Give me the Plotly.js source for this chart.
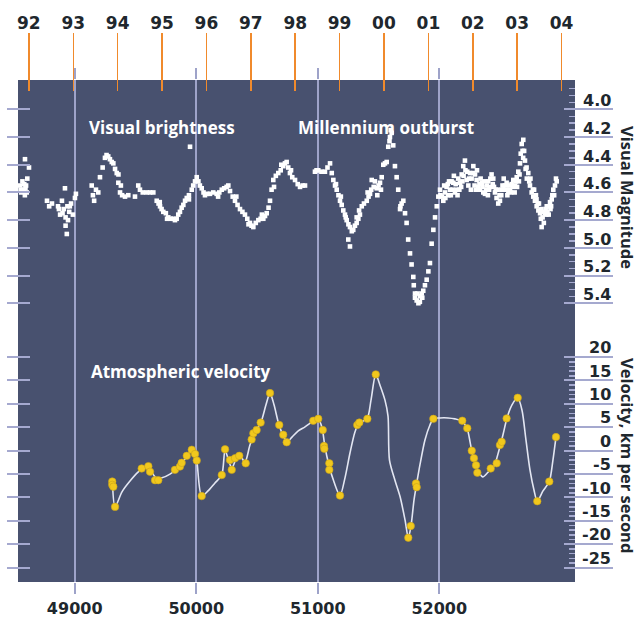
<!DOCTYPE html>
<html><head><meta charset="utf-8">
<script src="https://cdn.plot.ly/plotly-3.0.1.min.js"></script>
<style>html,body{margin:0;padding:0;background:#fff}#chart{width:640px;height:618px}</style>
</head><body><div id="chart"></div>
<script>
// ---------- data ----------
const yearJD = [48622.5,48988.5,49353.5,49718.5,50083.5,50449.5,50814.5,51179.5,51544.5,51910.5,52275.5,52640.5,53005.5];
const yearLabels = ['92','93','94','95','96','97','98','99','00','01','02','03','04'];
const jdTicks = [49000,50000,51000,52000];
const jdLabels = ['49000','50000','51000','52000'];
const magTicks = [4.0,4.2,4.4,4.6,4.8,5.0,5.2,5.4];
const magLabels = ['4.0','4.2','4.4','4.6','4.8','5.0','5.2','5.4'];
const velTicks = [20,15,10,5,0,-5,-10,-15,-20,-25];
const velLabels = ['20','15','10','5','0','-5','-10','-15','-20','-25'];

// visual brightness (JD-2400000, magnitude)
const visJD = [
48550,48560,48570,48580,48590,48600,48610,48591,48624,48605,48555,48585,48595,
48772,48790,48813,48863,48880,48895,48910,48920,48925,48925,48935,48940,48955,48970,48985,49002,49010,48870,48900,48945,48960,
49140,49150,49160,49175,49194,49208,49230,49249,49262,49276,49290,49305,49318,49332,49346,49360,49359,49373,49380,49390,49414,49441,
49496,49523,49537,49560,49592,49620,49647,49675,49690,49700,49702,49715,49729,49750,49760,49770,49790,49811,49825,49839,49852,49866,49880,49894,49908,49922,49940,49940,49949,49963,49975,49990,
50004,50018,50030,50045,50060,50072,50090,50113,50140,50168,50180,50190,50210,50230,50250,50264,50278,50300,50319,50330,50340,50360,50380,50401,50420,50430,50442,50455,50470,50490,50511,50530,50540,50552,50566,50580,50595,50607,50620,50634,50640,50655,50675,50695,50700,50716,50730,50744,50757,50771,50780,50790,50813,50835,50854,50875,50895,
50977,50990,51004,51030,51059,51080,51101,51115,51128,51142,51150,51156,51170,51183,51190,51197,51210,51224,51230,51238,51252,51265,51251,51265,51280,51292,51306,51320,51320,51334,51340,51347,51362,51380,51403,51410,51418,51430,51440,51444,51460,51470,51485,51490,51500,51512,51520,51526,51539,51553,51567,51580,51590,51594,51600,51608,51621,51635,51649,51662,51677,51680,51690,51704,51718,51731,51744,51759,51772,51786,51790,51800,51800,51814,51820,51828,51840,51841,51855,51860,51868,51882,51896,51910,51923,51937,51951,51965,51979,51992,
52006,52020,52033,52047,52060,52074,52088,52101,52115,52129,52143,52156,52170,52184,52197,52211,52225,52239,52253,52266,52280,52294,52307,52321,52335,52349,52362,52376,52390,52403,52417,52430,52444,52458,52471,52485,52499,52513,52527,52540,52554,52568,52582,52595,52609,52623,52637,52650,52664,52678,52691,52698,52705,52718,52732,52746,52760,52773,52787,52801,52815,52829,52842,52850,52870,52884,52897,52911,52925,52938,52952,52966,
52040,52070,52095,52120,52150,52180,52200,52230,52260,52290,52310,52340,52370,52400,52420,52450,52480,52510,52530,52560,52590,52620,52640,52660,52690,52720,52750,52780,52800,52820,52840,52860,52880,52900,52920,52930,
52010,52050,52080,52110,52135,52165,52190,52215,52245,52275,52300,52330,52355,52385,52410,52440,52465,52495,52520,52550,52575,52605,52630,52655,52670,52685,52710,52740,52770,52795,52810,52835,52855,52875,52890,52915,52945,52960
];
const visMag = [
4.55,4.60,4.52,4.58,4.62,4.55,4.50,4.36,4.42,4.60,4.58,4.54,4.57,
4.66,4.70,4.68,4.70,4.76,4.66,4.72,4.57,4.78,4.84,4.90,4.70,4.74,4.68,4.76,4.64,4.61,4.72,4.75,4.80,4.70,
4.55,4.62,4.66,4.58,4.60,4.49,4.42,4.35,4.33,4.34,4.36,4.38,4.39,4.43,4.46,4.47,4.53,4.60,4.55,4.62,4.63,4.62,
4.63,4.55,4.58,4.60,4.60,4.60,4.60,4.66,4.68,4.67,4.70,4.72,4.74,4.75,4.79,4.78,4.79,4.79,4.80,4.79,4.76,4.74,4.71,4.69,4.66,4.64,4.62,4.65,4.27,4.58,4.55,4.52,
4.49,4.52,4.55,4.57,4.60,4.62,4.61,4.61,4.60,4.61,4.63,4.60,4.58,4.57,4.56,4.55,4.59,4.63,4.66,4.63,4.69,4.72,4.74,4.76,4.79,4.83,4.82,4.84,4.85,4.82,4.80,4.79,4.76,4.79,4.77,4.75,4.71,4.66,4.58,4.51,4.56,4.48,4.46,4.44,4.40,4.41,4.39,4.38,4.42,4.46,4.44,4.49,4.51,4.54,4.56,4.55,4.55,
4.45,4.44,4.44,4.45,4.45,4.42,4.39,4.46,4.51,4.55,4.54,4.58,4.62,4.66,4.63,4.69,4.73,4.76,4.78,4.80,4.83,4.85,4.94,4.99,4.88,4.87,4.84,4.82,4.78,4.79,4.73,4.76,4.70,4.68,4.66,4.60,4.63,4.61,4.58,4.51,4.56,4.52,4.57,4.62,4.55,4.53,4.58,4.49,4.40,4.39,4.38,4.27,4.23,4.20,4.15,4.17,4.26,4.41,4.49,4.58,4.72,4.70,4.68,4.66,4.75,4.82,4.94,5.04,5.12,5.21,5.27,5.33,5.36,5.38,5.33,5.40,5.39,5.35,5.33,5.36,5.31,5.27,5.23,5.17,5.11,4.97,4.87,4.78,4.70,4.63,
4.58,4.63,4.66,4.60,4.56,4.62,4.58,4.52,4.53,4.60,4.58,4.50,4.53,4.47,4.41,4.37,4.51,4.55,4.46,4.50,4.41,4.47,4.51,4.56,4.58,4.53,4.60,4.61,4.55,4.52,4.56,4.47,4.50,4.60,4.64,4.68,4.66,4.58,4.58,4.55,4.53,4.59,4.58,4.54,4.51,4.55,4.49,4.45,4.39,4.25,4.22,4.30,4.37,4.42,4.46,4.55,4.60,4.63,4.66,4.70,4.73,4.75,4.85,4.78,4.75,4.70,4.70,4.67,4.65,4.58,4.55,4.52,
4.55,4.54,4.62,4.48,4.62,4.56,4.48,4.45,4.58,4.55,4.44,4.50,4.52,4.62,4.50,4.56,4.58,4.62,4.50,4.62,4.60,4.60,4.56,4.47,4.35,4.50,4.50,4.58,4.65,4.68,4.72,4.82,4.76,4.76,4.70,4.62,
4.62,4.64,4.52,4.58,4.54,4.58,4.52,4.44,4.50,4.46,4.58,4.54,4.56,4.58,4.58,4.54,4.58,4.62,4.55,4.58,4.55,4.56,4.52,4.52,4.32,4.30,4.43,4.52,4.58,4.62,4.68,4.79,4.74,4.72,4.74,4.72,4.62,4.50
];

// atmospheric velocity measurements (km/s)
const velJD = [49309,49309,49318,49332,49551,49606,49620,49661,49688,49825,49866,49880,49922,49963,49990,50004,50045,50210,50237,50278,50292,50319,50354,50407,50456,50470,50497,50530,50607,50683,50716,50744,50963,51004,51041,51051,51054,51095,51095,51183,51325,51342,51408,51477,51745,51765,51808,51814,51951,52189,52230,52267,52285,52302,52313,52423,52472,52499,52513,52554,52645,52806,52905,52960];
const velKms = [-6.6,-7.3,-7.7,-12.0,-3.8,-3.3,-4.5,-6.3,-6.3,-4.1,-3.4,-2.6,-1.1,0.2,-0.7,-2.1,-9.7,-5.2,0.3,-2.0,-4.1,-1.6,-1.1,-2.7,2.4,3.7,4.4,6.0,12.3,5.5,3.4,1.8,6.4,6.8,4.4,1.0,0.4,-2.7,-4.1,-9.6,5.5,6.0,6.8,16.3,-18.6,-16.1,-7.0,-7.8,6.8,6.4,4.8,0.0,-1.6,-3.1,-4.7,-3.8,-2.7,1.2,1.9,6.9,11.3,-10.8,-6.6,2.9];

// smooth curve drawn through the velocities
const fitJD = [49311,49332,49389,49455,49521,49578,49620,49669,49718,49784,49850,49908,49957,49990,50006,50045,50097,50154,50210,50237,50270,50294,50327,50360,50401,50442,50484,50533,50574,50607,50640,50681,50722,50747,50788,50837,50895,50961,51002,51035,51059,51092,51134,51183,51224,51265,51306,51339,51405,51438,51477,51512,51553,51578,51590,51635,51677,51718,51745,51767,51792,51812,51841,51882,51923,51951,52006,52072,52129,52187,52228,52253,52269,52302,52357,52401,52450,52491,52524,52557,52598,52645,52680,52713,52746,52779,52806,52853,52905,52935,52960];
const fitKms = [-6.9,-12.0,-8.8,-6.5,-4.6,-3.5,-4.1,-5.8,-5.8,-5.0,-3.7,-1.8,-0.1,-0.3,-2.4,-9.7,-8.6,-6.9,-5.2,0.1,-2.4,-3.7,-1.8,-1.1,-2.4,1.2,4.0,6.1,9.8,12.3,9.8,5.5,2.9,1.9,2.9,4.2,5.1,6.3,6.8,4.9,0.8,-3.1,-6.7,-9.6,-5.8,-0.5,4.0,5.9,6.8,10.8,16.3,14.0,10.8,7.4,-2.0,-6.3,-9.8,-14.8,-18.6,-16.1,-10.5,-7.3,-3.0,2.3,5.5,6.8,7.0,7.0,6.8,6.3,4.8,1.9,-0.3,-3.3,-5.6,-4.6,-3.3,0.1,3.4,7.0,9.8,11.3,8.7,2.3,-4.1,-8.4,-10.8,-8.6,-6.6,-2.0,2.9];

// ---------- layout geometry / style ----------
const W = 640, H = 618, M = {l: 18, r: 65, t: 80, b: 36};
const PW = W - M.l - M.r, PH = H - M.t - M.b;
const pxX = p => (p - M.l) / PW;
const pxY = p => (H - M.b - p) / PH;
const xRange = [48533.5, 53116.5];
const magRange = [7.413, 3.788];
const velRange = [-28.06, 79.21];
const magMinor = [], velMinor = [];
for (let k = 77; k <= 107; k++) { if (k % 4 !== 0) magMinor.push(k * 0.05); }
for (let v = -25; v <= 20; v++) { if (v % 5 !== 0) velMinor.push(v); }

const gridColor = '#9ea3c9';
const tickColor = '#a5a9cf';
const textColor = '#20272d';
const numFont = s => ({family: 'DejaVu Sans', size: s, color: textColor, weight: 'bold'});
const wordFont = (s, c) => ({family: 'Open Sans', size: s, color: c, weight: 'bold'});

const hidden = {showgrid: false, zeroline: false, showline: false, fixedrange: true};

const traces = [
  {type: 'scatter', mode: 'markers', x: visJD, y: visMag, xaxis: 'x', yaxis: 'y',
   marker: {symbol: 'square', size: 4.6, color: '#ffffff'}, hoverinfo: 'skip'},
  {type: 'scatter', mode: 'lines', x: fitJD, y: fitKms, xaxis: 'x', yaxis: 'y2',
   line: {color: '#e3e6f2', width: 1.6, shape: 'spline', smoothing: 0.8}, hoverinfo: 'skip'},
  {type: 'scatter', mode: 'markers', x: velJD, y: velKms, xaxis: 'x', yaxis: 'y2',
   marker: {size: 7.5, color: '#f1c81d', line: {width: 0.6, color: '#c9a21a'}}, hoverinfo: 'skip'},
  {type: 'scatter', x: [], y: [], xaxis: 'x2', yaxis: 'y', hoverinfo: 'skip'},
  {type: 'scatter', x: [], y: [], xaxis: 'x3', yaxis: 'y', hoverinfo: 'skip'},
  {type: 'scatter', x: [], y: [], xaxis: 'x', yaxis: 'y3', hoverinfo: 'skip'},
  {type: 'scatter', x: [], y: [], xaxis: 'x', yaxis: 'y4', hoverinfo: 'skip'},
  {type: 'scatter', x: [], y: [], xaxis: 'x', yaxis: 'y5', hoverinfo: 'skip'},
  {type: 'scatter', x: [], y: [], xaxis: 'x', yaxis: 'y6', hoverinfo: 'skip'}
];

const annotations = [];
magTicks.forEach((v, i) => annotations.push({xref: 'paper', yref: 'y', x: pxX(613), y: v, xanchor: 'right', yanchor: 'middle',
  yshift: 8.6, text: magLabels[i], showarrow: false, font: numFont(16)}));
velTicks.forEach((v, i) => annotations.push({xref: 'paper', yref: 'y2', x: pxX(613), y: v, xanchor: 'right', yanchor: 'middle',
  yshift: 9.3, text: velLabels[i], showarrow: false, font: numFont(16)}));
annotations.push(
  {xref: 'paper', yref: 'paper', x: pxX(628), y: pxY(197), xanchor: 'center', yanchor: 'middle', textangle: 90, borderpad: 0,
   text: 'Visual Magnitude', showarrow: false, font: wordFont(16.5, textColor)},
  {xref: 'paper', yref: 'paper', x: pxX(628), y: pxY(455), xanchor: 'center', yanchor: 'middle', textangle: 90, borderpad: 0,
   text: 'Velocity, km per second', showarrow: false, font: wordFont(16.5, textColor)},
  {xref: 'paper', yref: 'paper', x: pxX(87), y: pxY(127), xanchor: 'left', yanchor: 'middle', text: 'Visual brightness', showarrow: false, font: wordFont(17, '#ffffff')},
  {xref: 'paper', yref: 'paper', x: pxX(296), y: pxY(127), xanchor: 'left', yanchor: 'middle', text: 'Millennium outburst', showarrow: false, font: wordFont(17, '#ffffff')},
  {xref: 'paper', yref: 'paper', x: pxX(89), y: pxY(372), xanchor: 'left', yanchor: 'middle', text: 'Atmospheric velocity', showarrow: false, font: wordFont(17, '#ffffff')}
);

const layout = {
  width: W, height: H, margin: M, showlegend: false,
  paper_bgcolor: '#ffffff', plot_bgcolor: '#48516f',
  xaxis: Object.assign({}, hidden, {range: xRange, tickmode: 'array', tickvals: jdTicks, ticktext: jdLabels,
    ticks: 'outside', ticklen: 11, tickwidth: 2, tickcolor: gridColor, showgrid: true, gridcolor: gridColor, gridwidth: 2,
    tickfont: numFont(16), ticklabelstandoff: 1}),
  xaxis2: Object.assign({}, hidden, {overlaying: 'x', side: 'top', anchor: 'free', position: pxY(91), range: xRange,
    tickmode: 'array', tickvals: yearJD, ticktext: yearLabels, ticks: 'outside', ticklen: 58, tickwidth: 1.6,
    tickcolor: '#f08a2c', tickfont: numFont(17), ticklabelstandoff: -3}),
  xaxis3: Object.assign({}, hidden, {overlaying: 'x', side: 'top', anchor: 'y', range: xRange, tickmode: 'array',
    tickvals: jdTicks, ticks: 'outside', ticklen: 11, tickwidth: 2, tickcolor: gridColor, showticklabels: false}),
  yaxis: Object.assign({}, hidden, {range: magRange, anchor: 'free', position: pxX(563), side: 'right', tickmode: 'array',
    tickvals: magTicks, ticks: 'outside', ticklen: 49, tickwidth: 2, tickcolor: tickColor, showticklabels: false}),
  yaxis2: Object.assign({}, hidden, {overlaying: 'y', range: velRange, anchor: 'free', position: pxX(563), side: 'right', tickmode: 'array',
    tickvals: velTicks, ticks: 'outside', ticklen: 49, tickwidth: 2, tickcolor: tickColor, showticklabels: false}),
  yaxis3: Object.assign({}, hidden, {overlaying: 'y', range: magRange, anchor: 'x', side: 'right', tickmode: 'array',
    tickvals: magMinor, ticks: 'inside', ticklen: 6, tickwidth: 1.5, tickcolor: tickColor, showticklabels: false}),
  yaxis4: Object.assign({}, hidden, {overlaying: 'y', range: velRange, anchor: 'x', side: 'right', tickmode: 'array',
    tickvals: velMinor, ticks: 'inside', ticklen: 6, tickwidth: 1.5, tickcolor: tickColor, showticklabels: false}),
  yaxis5: Object.assign({}, hidden, {overlaying: 'y', range: magRange, anchor: 'free', position: pxX(30), side: 'left', tickmode: 'array',
    tickvals: magTicks, ticks: 'outside', ticklen: 23, tickwidth: 2, tickcolor: tickColor, showticklabels: false}),
  yaxis6: Object.assign({}, hidden, {overlaying: 'y', range: velRange, anchor: 'free', position: pxX(30), side: 'left', tickmode: 'array',
    tickvals: velTicks, ticks: 'outside', ticklen: 23, tickwidth: 2, tickcolor: tickColor, showticklabels: false}),
  annotations: annotations
};

Plotly.newPlot('chart', traces, layout, {displayModeBar: false, staticPlot: true});
</script></body></html>
